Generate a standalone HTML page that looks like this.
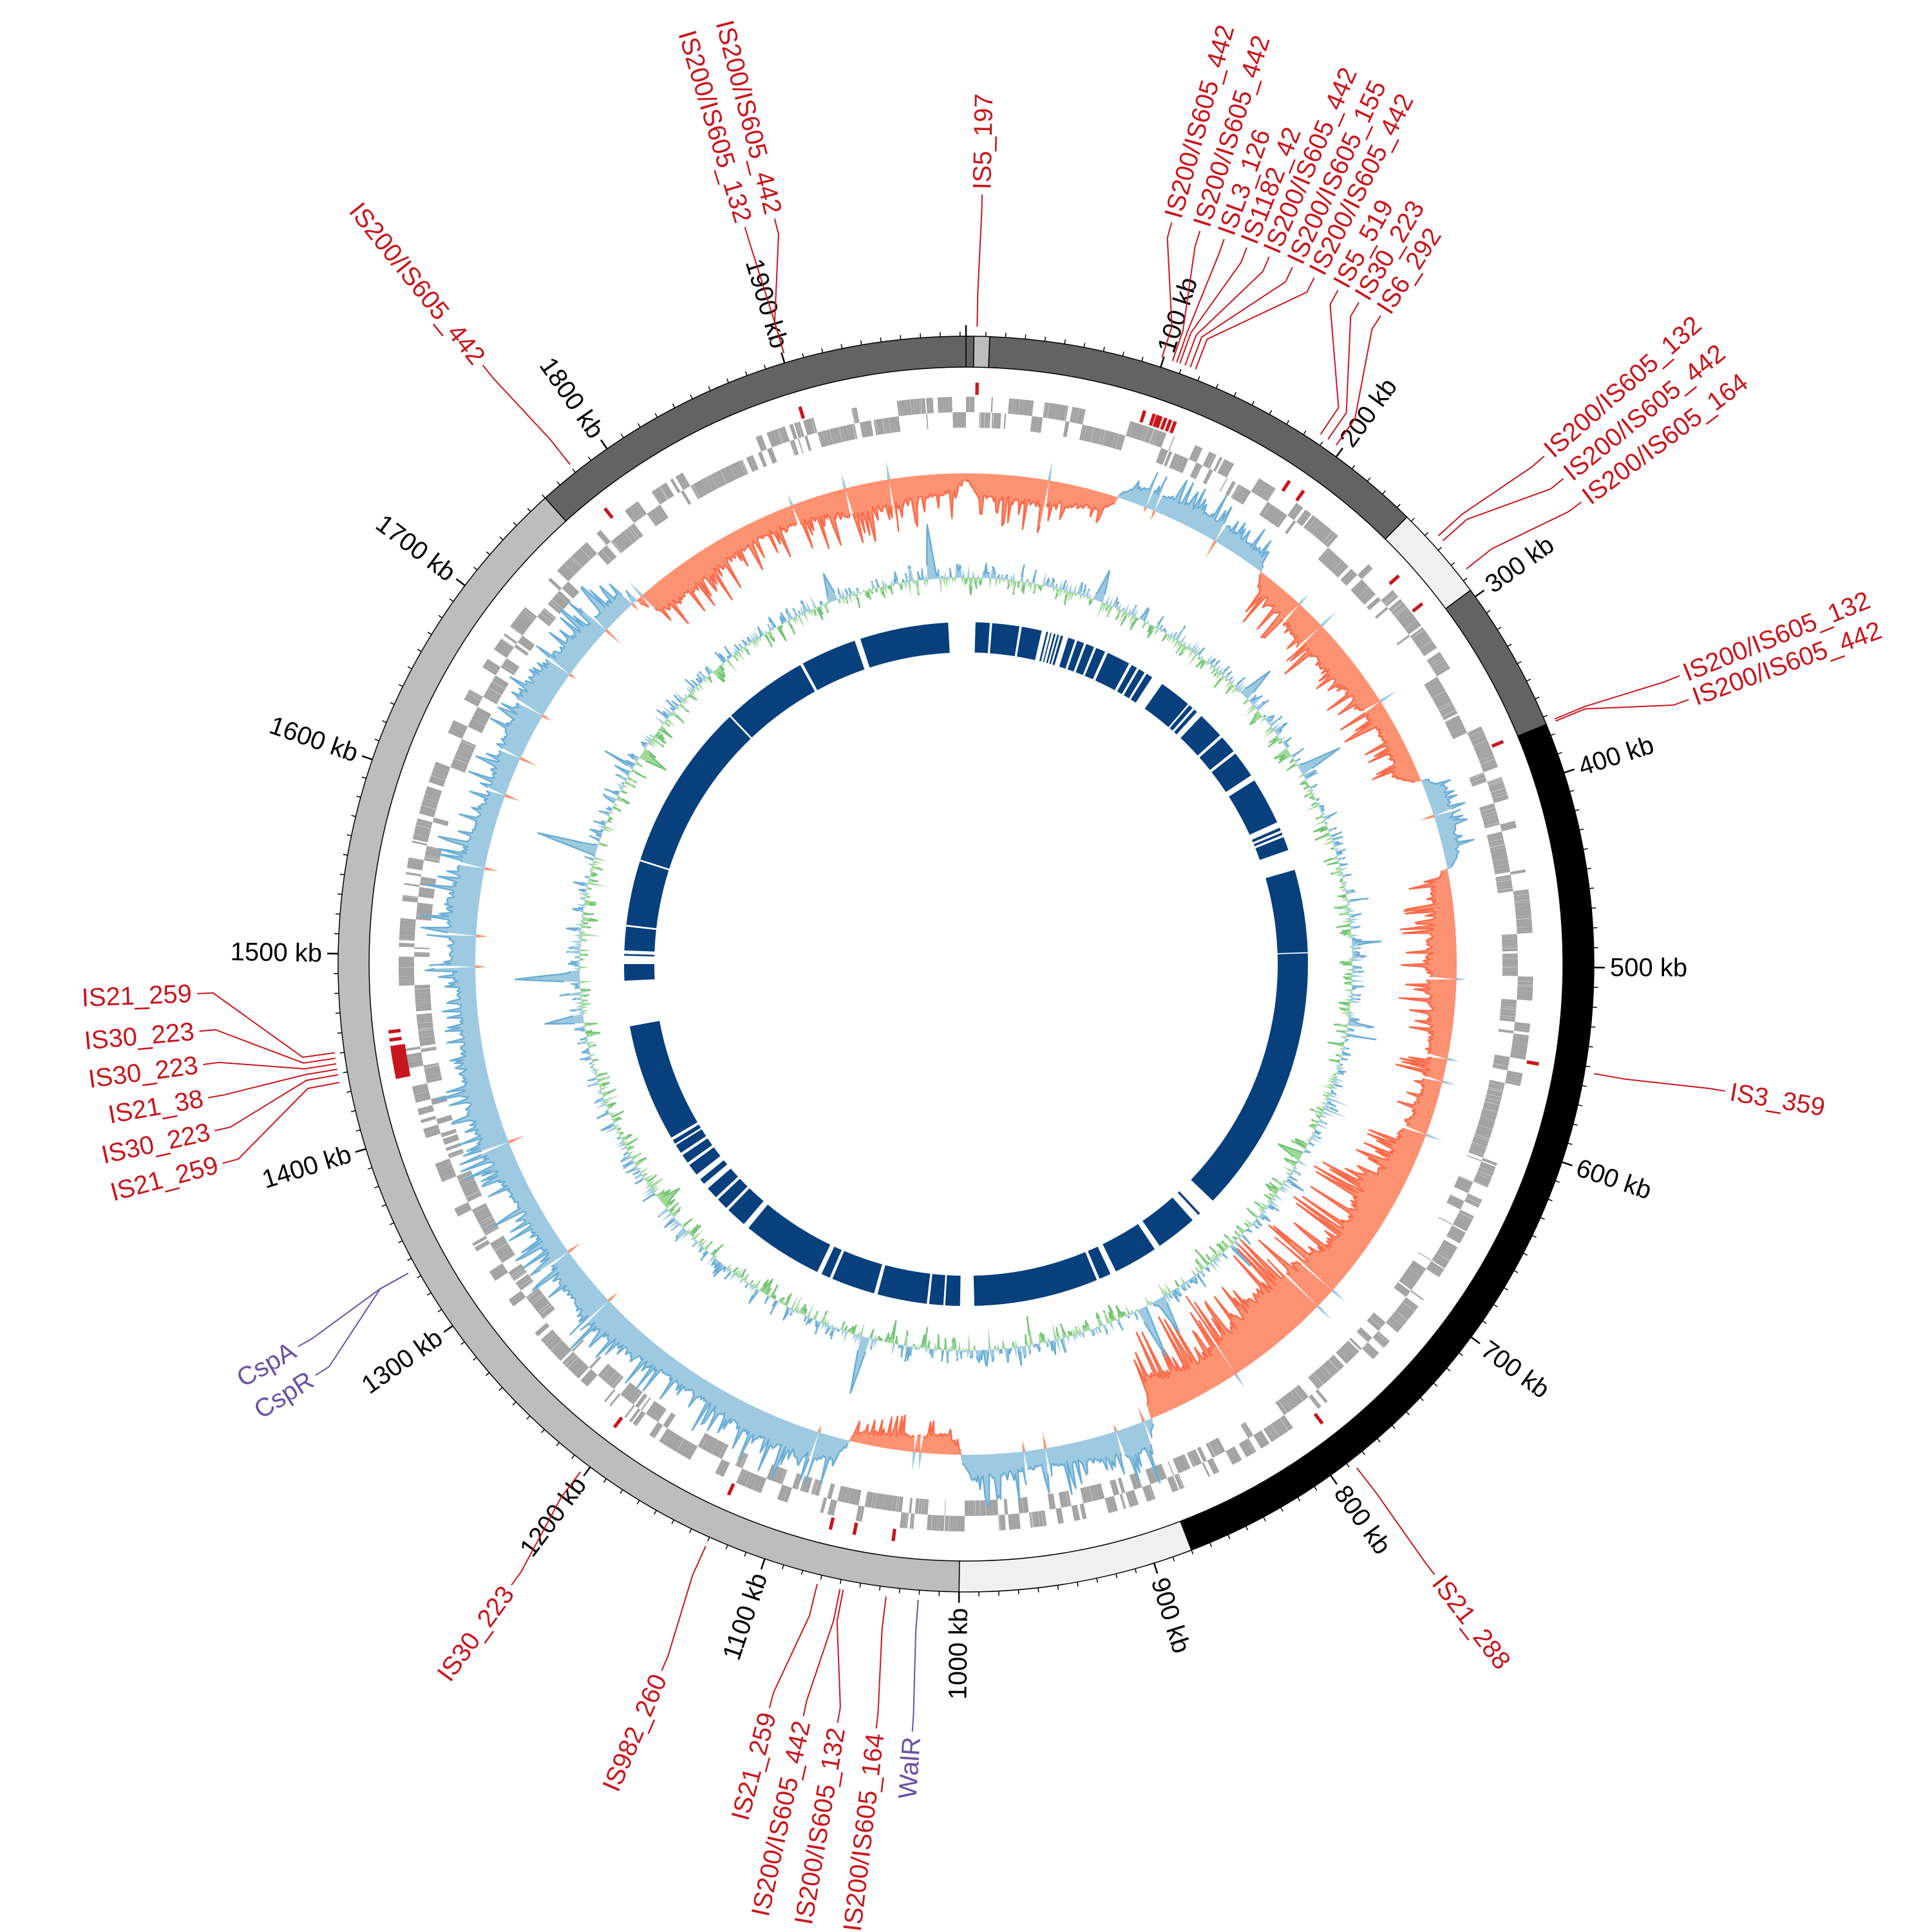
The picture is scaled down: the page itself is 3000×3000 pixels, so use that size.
<!DOCTYPE html>
<html><head><meta charset="utf-8"><style>
html,body{margin:0;padding:0;background:#fff;width:3000px;height:3000px;overflow:hidden}
#c{width:3000px;height:3000px}
</style></head><body><div id="c"></div>
<script>
(function(){
var cx=1500,cy=1497,T=1993;
function A(kb){return kb/T*360;}
function P(a,r){var t=a*Math.PI/180;return [(cx+r*Math.sin(t)).toFixed(1),(cy-r*Math.cos(t)).toFixed(1)];}
function sec(a0,a1,r0,r1){var l=(a1-a0)>180?1:0;var p1=P(a0,r1),p2=P(a1,r1),p3=P(a1,r0),p4=P(a0,r0);
return 'M'+p1+'A'+r1+','+r1+' 0 '+l+' 1 '+p2+'L'+p3+'A'+r0+','+r0+' 0 '+l+' 0 '+p4+'Z';}
var s=123457;function rnd(){s|=0;s=s+0x6D2B79F5|0;var t=Math.imul(s^s>>>15,1|s);t=t+Math.imul(t^t>>>7,61|t)^t;return((t^t>>>14)>>>0)/4294967296;}
var o=[];
o.push('<svg xmlns="http://www.w3.org/2000/svg" width="3000" height="3000" viewBox="0 0 3000 3000">');
o.push('<rect width="3000" height="3000" fill="#fff"/>');
var segs=[[0,4,'#636363'],[4,12,'#bdbdbd'],[12,247,'#636363'],[247,296,'#f0f0f0'],[296,374,'#636363'],[374,880,'#000'],[880,1000,'#f0f0f0'],[1000,1760,'#bdbdbd'],[1760,1993,'#636363']];
segs.forEach(function(g){o.push('<path d="'+sec(A(g[0]),A(g[1]),927,975)+'" fill="'+g[2]+'" stroke="#000" stroke-width="1.5"/>');});
var tk=[],tb=[];for(var k=0;k<T;k+=10){var a=A(k);var big=(k%100===0);var p1=P(a,975),p2=P(a,big?992:982);(big?tb:tk).push('M'+p1+'L'+p2);}
o.push('<path d="'+tk.join('')+'" stroke="#000" stroke-width="1.5" fill="none"/>');
o.push('<path d="'+tb.join('')+'" stroke="#000" stroke-width="2.5" fill="none"/>');
var tl=["100 kb","200 kb","300 kb","400 kb","500 kb","600 kb","700 kb","800 kb","900 kb","1000 kb","1100 kb","1200 kb","1300 kb","1400 kb","1500 kb","1600 kb","1700 kb","1800 kb","1900 kb"];
tl.forEach(function(t,i){var a=A((i+1)*100);var p=P(a,1000);var right=a<180;var rot=right?a-90:a+90;
o.push('<text x="'+p[0]+'" y="'+p[1]+'" transform="rotate('+rot.toFixed(2)+' '+p[0]+' '+p[1]+')" text-anchor="'+(right?'start':'end')+'" dominant-baseline="central" font-family="Liberation Sans, sans-serif" font-size="40" fill="#000">'+t+'</text>');});
var gp=[];var kb=0,lane=0;
while(kb<T){var L=0.3+rnd()*2.0;var e=Math.min(kb+L,T);
var r0=lane?833:857,r1=lane?857:881;gp.push(sec(A(kb),A(e),r0,r1));
var g=rnd()<0.25?0.06+rnd()*0.12:0.03;if(rnd()<0.03)g=0.8+rnd()*2.5;kb=e+g;if(rnd()<0.15)lane=1-lane;}
o.push('<path d="'+gp.join('')+'" fill="#a3a3a3"/>');
var ism=[1.1,17.9,18.9,19.3,19.6,20.1,20.6,21.1,33.8,35.5,48.1,51.7,67.5,99.9,142.2,187.2,191.1,193.5,204.1,217.2,262.5,263.3,321.6,343.4];
var ip=[];ism.forEach(function(a){ip.push(sec(a-0.17,a+0.17,884,903));});
ip.push(sec(258.6,261.9,880,903));
o.push('<path d="'+ip.join('')+'" fill="#c8161d"/>');
var regs=[[0,100,-1,50],[100,205,1,40],[205,377,-1,55],[377,437,1,35],[437,650,-1,55],[650,874,-1,100],[874,1000,1,55],[1000,1073,-1,40],[1073,1760,1,55],[1760,1993,-1,55]];
function skew(k){for(var i=0;i<regs.length;i++){var g=regs[i];if(k>=g[0]&&k<g[1]){
var f=Math.min(1,(k-g[0]+2)/10,(g[1]-k+2)/10);if((g[0]==650&&k<660)||(g[1]==650&&k>640))f=1;
var sm=0.5+0.5*Math.sin(k*0.045+i);var m=g[3]*(0.55+0.35*sm)*(0.75+0.25*rnd());if(rnd()<0.25)m+=rnd()*g[3]*0.9;
var v=g[2]*m*f; if(rnd()<0.015)v=-g[2]*(8+rnd()*25);return v;}}return 0;}
function track(base,vals,negFill,negStroke,posFill,posStroke){
var N=vals.length;
[[-1,negFill,negStroke],[1,posFill,posStroke]].forEach(function(c){
var pts=[],back=[],st=[],on=false;
for(var i=0;i<N;i++){var v=vals[i];var vv=c[0]<0?Math.min(v,0):Math.max(v,0);var a=i*360/N;var p=P(a,base+vv);pts.push(p);back.push(P(a,base));
if(vv!==0){st.push((on?'L':'M')+p);on=true;}else on=false;}
var d='M'+pts.join('L')+'L'+pts[0]+'L'+back[0]+'L'+back.slice().reverse().join('L')+'Z';
o.push('<path d="'+d+'" fill="'+c[1]+'" fill-rule="nonzero"/>');
o.push('<path d="'+st.join('')+'" fill="none" stroke="'+c[2]+'" stroke-width="2.5" stroke-linejoin="round"/>');});}
var sv=[];for(var i=0;i<T;i++)sv.push(skew(i));
track(762,sv,'#fc9272','#fb6a4a','#9ecae1','#6baed6');
var gv=[];for(var i=0;i<T;i++){var v=(rnd()-0.5)*34+(rnd()-0.5)*20;if(rnd()<0.06)v+=(rnd()-0.45)*60;gv.push(v);}
var spk=[[355,85],[287,95],[268,100],[262,60],[195,90],[153,85],[150,60],[60,70],[46,55],[20,50],[340,45],[303,-45],[232,-35],[120,-40]];
spk.forEach(function(p){var c=Math.round(p[0]/360*T);for(var j=-3;j<=3;j++){var w=1-Math.abs(j)/4;var idx=(c+j+T)%T;gv[idx]=p[1]*w;}});
track(600,gv,'#a1d99b','#74c476','#9ecae1','#6baed6');
var bl=[[1.6,4],[4.4,9],[9.4,12.8],[13.6,13.9],[14.3,14.5],[14.9,15.2],[15.5,15.8],[16.1,16.5],[17.4,18.6],[19,20.2],[20.6,22],[22.4,24],[24.5,28.5],[29,30],[30.4,31.5],[31.9,33],[35,40.5],[40.8,41.5],[41.9,42.5],[43.5,48],[48.5,51.5],[52,56.5],[57.5,65.5],[66.5,67],[67.4,67.8],[68.2,70.5],[74,88],[88.2,133.8],[136.8,137.2],[138.5,145.5],[146.5,154],[155,157],[157.5,178.6],[181,183.5],[183.8,186.2],[186.6,195],[195.6,203],[203.5,205],[205.8,219.5],[220.5,224],[224.5,226.5],[227,229],[230,231],[232,234],[234.5,236],[236.5,238],[238.3,239],[239.5,259.5],[267.2,270],[271.4,271.7],[272.3,276.3],[276.6,287.5],[287.8,316.3],[316.6,331],[331.5,341],[342,357]];
var bp=[];bl.forEach(function(b){bp.push(sec(b[0],b[1],484,531));});
o.push('<path d="'+bp.join('')+'" fill="#08407e"/>');
var R='#c8161d',Pu='#6a51a3';
var lab=[
["IS5_197",1.0,1.2,R],["IS200/IS605_442",17.9,15.5,R],["IS200/IS605_442",18.9,17.7,R],["ISL3_126",19.3,19.6,R],["IS1182_42",19.6,21.4,R],["IS200/IS605_442",20.1,23.2,R],["IS200/IS605_155",20.6,25.1,R],["IS200/IS605_442",21.1,26.9,R],
["IS5_519",33.8,28.9,R],["IS30_223",34.6,30.7,R],["IS6_292",35.5,32.6,R],
["IS200/IS605_132",47.8,48.7,R],["IS200/IS605_442",48.4,50.9,R],["IS200/IS605_164",51.7,53.1,R],
["IS200/IS605_132",67.4,68.0,R],["IS200/IS605_442",67.6,69.9,R],["IS3_359",99.9,99.5,R],["IS21_288",142.2,142.5,R],
["WalR",184.3,184.0,Pu],["IS200/IS605_164",187.2,186.7,R],["IS200/IS605_132",191.1,189.6,R],["IS200/IS605_442",191.4,192.2,R],["IS21_259",193.5,194.8,R],
["IS982_260",204.1,203.3,R],["IS30_223",217.2,216.2,R],["CspA",241,240.2,Pu],["CspR",241,237.7,Pu],
["IS21_259",262.0,267.8,R],["IS30_223",261.5,265,R],["IS30_223",261.0,262.5,R],["IS21_38",260.5,260,R],["IS30_223",260.0,257.5,R],["IS21_259",259.3,255,R],
["IS200/IS605_442",321.6,321.1,R],["IS200/IS605_132",343.4,343.3,R],["IS200/IS605_442",343.4,345.6,R]];
lab.forEach(function(l){var fa=l[1],la=l[2];
var d='M'+P(fa,990)+'L'+P(fa,1040)+'L'+P(la,1170)+'L'+P(la,1195);
o.push('<path d="'+d+'" fill="none" stroke="'+l[3]+'" stroke-width="2"/>');
var p=P(la,1203);var right=la<180;var rot=right?la-90:la+90;
o.push('<text x="'+p[0]+'" y="'+p[1]+'" transform="rotate('+rot.toFixed(2)+' '+p[0]+' '+p[1]+')" text-anchor="'+(right?'start':'end')+'" dominant-baseline="central" font-family="Liberation Sans Narrow, Liberation Sans, sans-serif" font-size="40" fill="'+l[3]+'">'+l[0]+'</text>');});
o.push('</svg>');
document.getElementById('c').innerHTML=o.join('');
})();
</script></body></html>
